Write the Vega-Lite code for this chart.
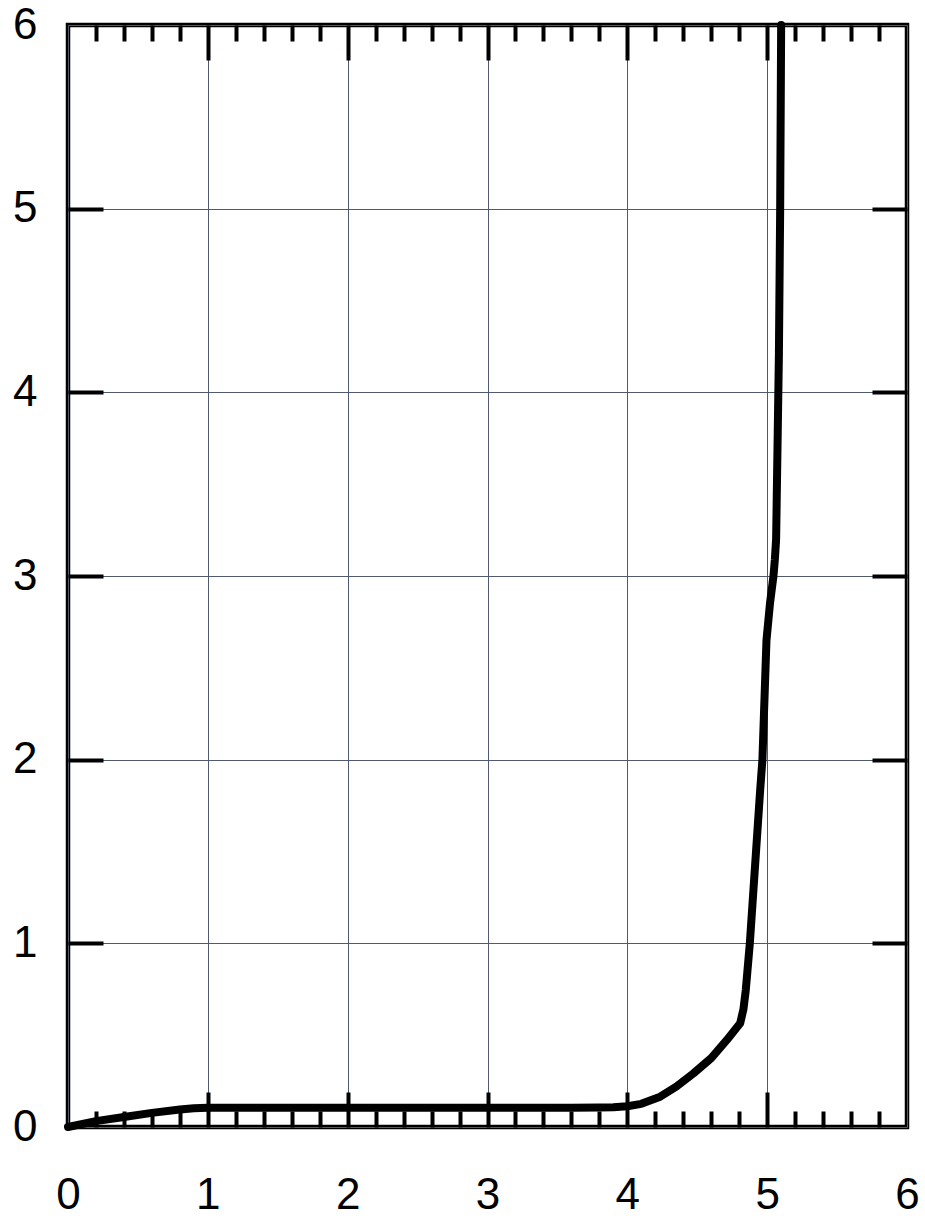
{
  "$schema": "https://vega.github.io/schema/vega-lite/v6.json",
  "autosize": "none",
  "width": 839,
  "height": 1102,
  "padding": {"left": 68, "top": 25, "right": 18, "bottom": 91},
  "background": "white",
  "config": {
    "view": {"stroke": "black", "strokeWidth": 4.5},
    "axis": {"labelFont": "Liberation Sans", "labelColor": "black", "tickColor": "black", "tickWidth": 4, "tickCap": "butt", "domain": false, "grid": false, "labelOverlap": false, "labelFlush": false, "title": null}
  },
  "data": {"values": [
    {"x": 0, "y": 0},
    {"x": 0.2, "y": 0.032},
    {"x": 0.4, "y": 0.054},
    {"x": 0.6, "y": 0.077},
    {"x": 0.8, "y": 0.095},
    {"x": 0.9, "y": 0.102},
    {"x": 1.0, "y": 0.105},
    {"x": 3.6, "y": 0.105},
    {"x": 3.8, "y": 0.106},
    {"x": 3.9, "y": 0.108},
    {"x": 4.0, "y": 0.113},
    {"x": 4.1, "y": 0.126},
    {"x": 4.235, "y": 0.165},
    {"x": 4.35, "y": 0.22},
    {"x": 4.473, "y": 0.292},
    {"x": 4.6, "y": 0.375},
    {"x": 4.712, "y": 0.474},
    {"x": 4.807, "y": 0.565},
    {"x": 4.83, "y": 0.64},
    {"x": 4.847, "y": 0.745},
    {"x": 4.876, "y": 1.0},
    {"x": 4.95, "y": 1.835},
    {"x": 4.966, "y": 2.0},
    {"x": 4.995, "y": 2.65},
    {"x": 5.02, "y": 2.85},
    {"x": 5.045, "y": 3.0},
    {"x": 5.055, "y": 3.09},
    {"x": 5.064, "y": 3.2},
    {"x": 5.084, "y": 4.21},
    {"x": 5.093, "y": 5.0},
    {"x": 5.1, "y": 6}
  ]},
  "resolve": {"axis": {"x": "independent", "y": "independent"}},
  "layer": [
    {
      "mark": {"type": "line", "opacity": 0},
      "encoding": {
        "x": {"field": "x", "type": "quantitative", "scale": {"domain": [0, 6], "nice": false},
              "axis": {"orient": "bottom", "values": [0.2,0.4,0.6,0.8,1.2,1.4,1.6,1.8,2.2,2.4,2.6,2.8,3.2,3.4,3.6,3.8,4.2,4.4,4.6,4.8,5.2,5.4,5.6,5.8], "tickSize": -16, "labels": false}},
        "y": {"field": "y", "type": "quantitative", "scale": {"domain": [0, 6], "nice": false},
              "axis": {"orient": "right", "values": [1,2,3,4,5], "tickSize": -35, "labels": false}}
      }
    },
    {
      "mark": {"type": "line", "opacity": 0},
      "encoding": {
        "x": {"field": "x", "type": "quantitative",
              "axis": {"orient": "top", "values": [0.2,0.4,0.6,0.8,1.2,1.4,1.6,1.8,2.2,2.4,2.6,2.8,3.2,3.4,3.6,3.8,4.2,4.4,4.6,4.8,5.2,5.4,5.6,5.8], "tickSize": -16, "labels": false}},
        "y": {"field": "y", "type": "quantitative",
              "axis": {"orient": "left", "values": [1,2,3,4,5], "tickSize": -35, "labels": false}}
      }
    },
    {
      "mark": {"type": "line", "opacity": 0},
      "encoding": {
        "x": {"field": "x", "type": "quantitative",
              "axis": {"orient": "bottom", "values": [1,2,3,4,5], "tickSize": -35, "labels": false}},
        "y": {"field": "y", "type": "quantitative", "axis": null}
      }
    },
    {
      "mark": {"type": "line", "opacity": 0},
      "encoding": {
        "x": {"field": "x", "type": "quantitative",
              "axis": {"orient": "top", "values": [1,2,3,4,5], "tickSize": -35, "labels": false}},
        "y": {"field": "y", "type": "quantitative", "axis": null}
      }
    },
    {
      "mark": {"type": "line", "color": "black", "strokeWidth": 8, "strokeJoin": "round", "strokeCap": "round"},
      "encoding": {
        "x": {"field": "x", "type": "quantitative",
              "axis": {"orient": "bottom", "values": [0,1,2,3,4,5,6], "ticks": false, "grid": true, "gridColor": "#4f5a6e", "gridWidth": 1, "labelFontSize": 44, "labelPadding": 46}},
        "y": {"field": "y", "type": "quantitative",
              "axis": {"orient": "left", "values": [0,1,2,3,4,5,6], "ticks": false, "grid": true, "gridColor": "#4f5a6e", "gridWidth": 1, "labelFontSize": 44, "labelPadding": 31}}
      }
    }
  ]
}
